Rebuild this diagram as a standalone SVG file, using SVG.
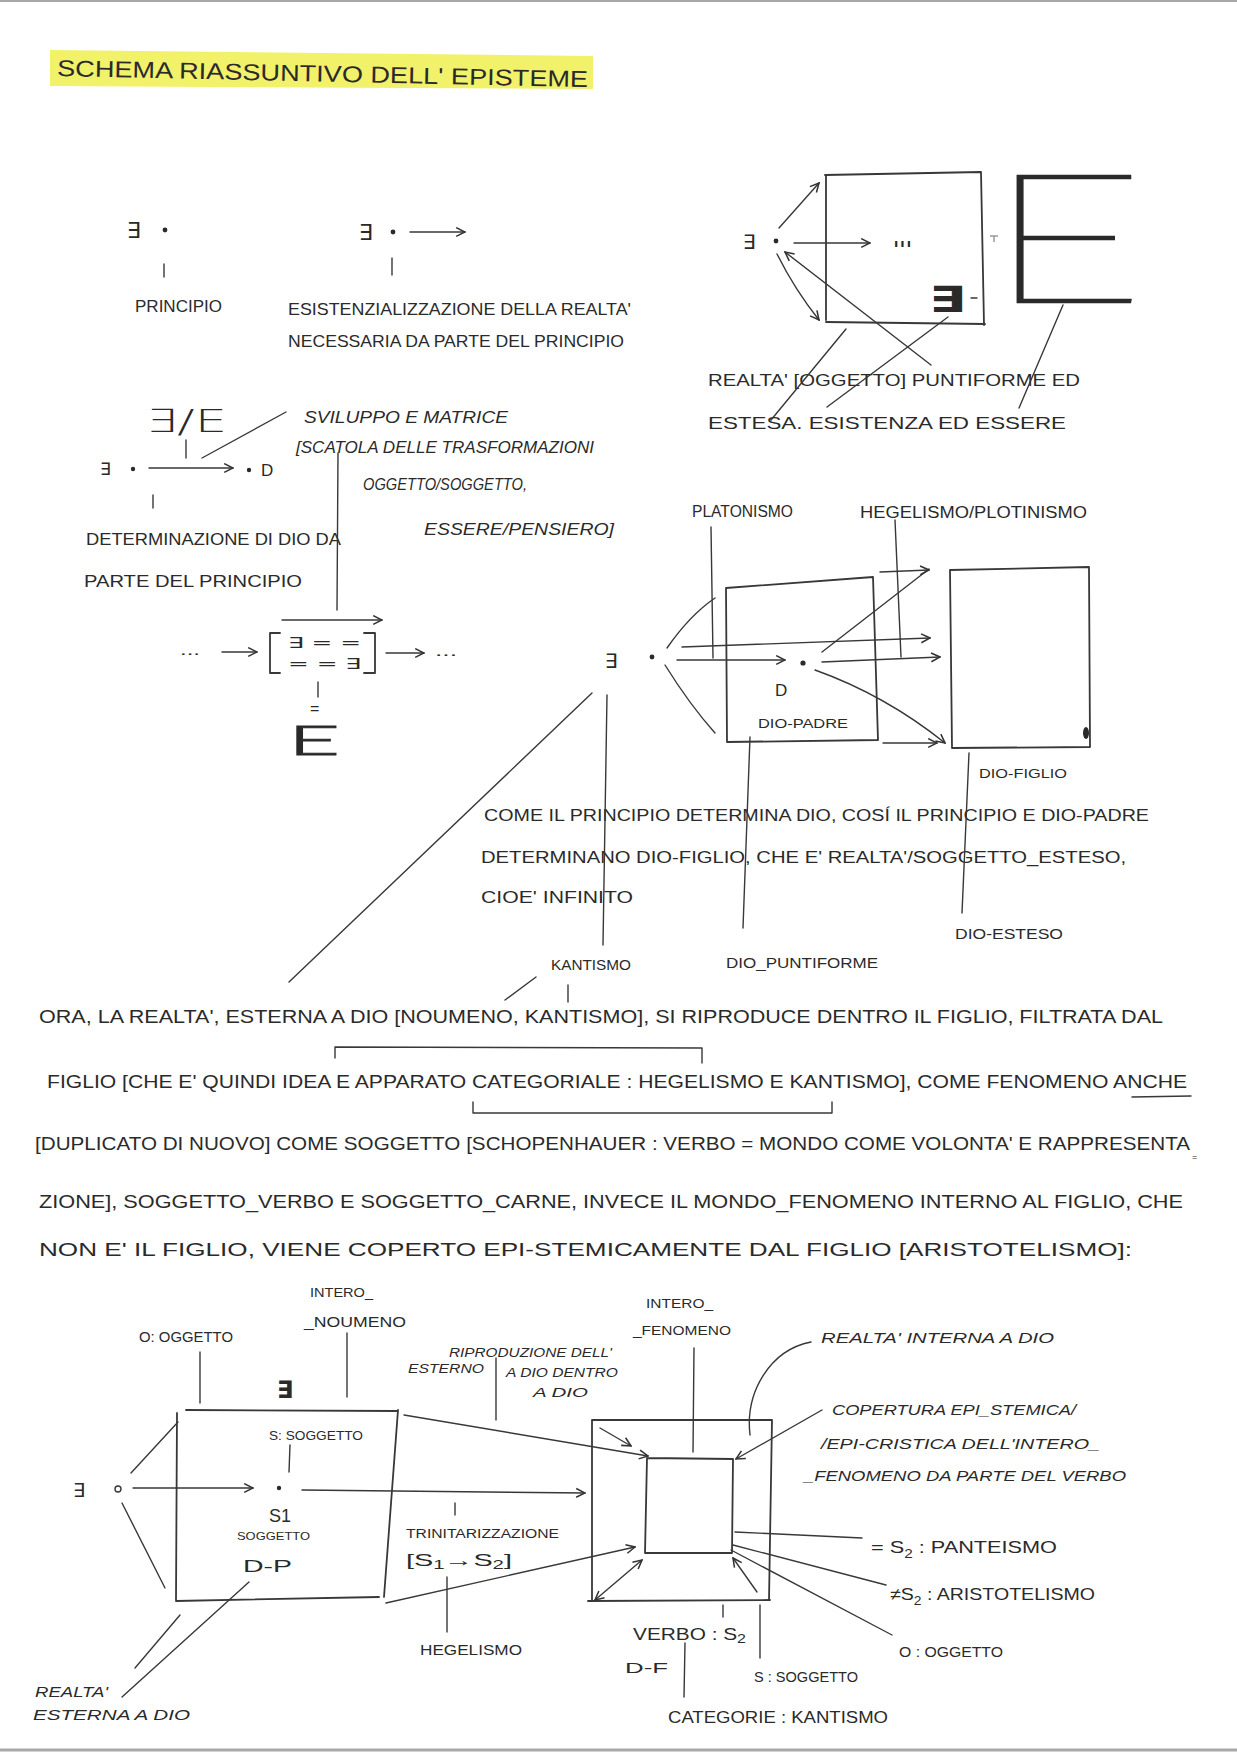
<svg xmlns="http://www.w3.org/2000/svg" width="1237" height="1753" viewBox="0 0 1237 1753">
<defs>
<marker id="ah" viewBox="0 0 10 10" refX="9" refY="5" markerWidth="11" markerHeight="11" markerUnits="userSpaceOnUse" orient="auto-start-reverse"><path d="M1,1 L9,5 L1,9" fill="none" stroke="#333" stroke-width="1.4"/></marker>
</defs>
<style>
.t{font-family:"Liberation Sans",Arial,sans-serif;fill:#2a2a2a}
.s{font-family:"DejaVu Sans","Liberation Sans",sans-serif;fill:#2a2a2a}
.big{font-family:Lato,"DejaVu Sans",sans-serif;fill:#2a2a2a;stroke:#2a2a2a}
.ln{fill:none;stroke:#383838;stroke-width:1.4;stroke-linecap:round;stroke-linejoin:round}
.bx{fill:none;stroke:#383838;stroke-width:1.8;stroke-linecap:round;stroke-linejoin:round}
.ar{marker-end:url(#ah)}
.ar2{marker-start:url(#ah);marker-end:url(#ah)}
.dot{fill:#2a2a2a}
</style>
<rect width="1237" height="1753" fill="#ffffff"/>
<g id="scan-edges" stroke="#a8a8a8" fill="none">
<line x1="0" y1="1" x2="1237" y2="1" stroke-width="2"/>
<line x1="0" y1="1750" x2="1237" y2="1750" stroke-width="3"/>
</g>

<g id="title">
<polygon points="50,50 593,56 593,89 50,86" fill="#f1f16a"/>
<text class="t" x="57" y="76" font-size="23" textLength="531" lengthAdjust="spacingAndGlyphs" transform="rotate(1.2 57 76)">SCHEMA  RIASSUNTIVO  DELL' EPISTEME</text>
</g>

<g id="principio">
<text class="s" x="127" y="238" font-size="22">∃</text>
<circle class="dot" cx="165" cy="230" r="2.4"/>
<text class="t" x="135" y="312" font-size="17" textLength="87" lengthAdjust="spacingAndGlyphs">PRINCIPIO</text>
</g>

<g id="esistenzializzazione">
<text class="s" x="359" y="240" font-size="22">∃</text>
<circle class="dot" cx="393" cy="232" r="2.4"/>
<text class="t" x="288" y="315" font-size="17" textLength="343" lengthAdjust="spacingAndGlyphs">ESISTENZIALIZZAZIONE DELLA REALTA'</text>
<text class="t" x="288" y="347" font-size="17" textLength="336" lengthAdjust="spacingAndGlyphs">NECESSARIA DA PARTE DEL PRINCIPIO</text>
</g>

<g id="realta-box">
<text class="s" x="743" y="249" font-size="20">∃</text>
<circle class="dot" cx="776" cy="241" r="2.4"/>
<path class="bx" d="M825,175 L981,172 M981,172 L984,325 M985,324 L826,322 M826,320 L826,175"/>
<text class="t" x="893" y="247" font-size="9" textLength="19" lengthAdjust="spacingAndGlyphs">III</text>
<text class="s" x="929" y="312" font-size="36" font-weight="bold" textLength="37" lengthAdjust="spacingAndGlyphs">∃</text>
<line class="ln" x1="971" y1="298" x2="977" y2="298" stroke-width="2"/>
<path d="M990,236 L998,236 M994,236 L994,242" stroke="#9a9a9a" stroke-width="1.5" fill="none"/>
<text class="big" x="987" y="302" font-size="180" font-weight="100" stroke-width="2.5" textLength="158" lengthAdjust="spacingAndGlyphs">E</text>
<text class="t" x="708" y="386" font-size="17" textLength="372" lengthAdjust="spacingAndGlyphs">REALTA' [OGGETTO] PUNTIFORME ED</text>
<text class="t" x="708" y="429" font-size="17" textLength="358" lengthAdjust="spacingAndGlyphs">ESTESA. ESISTENZA ED ESSERE</text>
</g>

<g id="determinazione">
<text class="s" x="145" y="432" font-size="32" font-weight="200" textLength="82" lengthAdjust="spacingAndGlyphs">∃/E</text>
<text class="s" x="100" y="475" font-size="17">∃</text>
<circle class="dot" cx="133" cy="469" r="2.2"/>
<circle class="dot" cx="249" cy="470" r="2.2"/>
<text class="t" x="261" y="476" font-size="17">D</text>
<text class="t" x="86" y="545" font-size="16" textLength="255" lengthAdjust="spacingAndGlyphs">DETERMINAZIONE DI DIO DA</text>
<text class="t" x="84" y="587" font-size="16" textLength="218" lengthAdjust="spacingAndGlyphs">PARTE DEL PRINCIPIO</text>
<text class="t" x="304" y="423" font-size="16" textLength="204" lengthAdjust="spacingAndGlyphs" font-style="italic">SVILUPPO E MATRICE</text>
<text class="t" x="296" y="453" font-size="16" textLength="298" lengthAdjust="spacingAndGlyphs" font-style="italic">[SCATOLA DELLE TRASFORMAZIONI</text>
<text class="t" x="363" y="490" font-size="16" textLength="164" lengthAdjust="spacingAndGlyphs" font-style="italic">OGGETTO/SOGGETTO,</text>
<text class="t" x="424" y="535" font-size="16" textLength="190" lengthAdjust="spacingAndGlyphs" font-style="italic">ESSERE/PENSIERO]</text>
</g>

<g id="matrice">
<path class="bx" d="M280,633 L270,633 L270,673 L280,673 M364,633 L375,633 L375,673 L364,673"/>
<text class="s" x="288" y="648" font-size="15" textLength="73" lengthAdjust="spacingAndGlyphs">∃  =  =</text>
<text class="s" x="288" y="669" font-size="15" textLength="73" lengthAdjust="spacingAndGlyphs">=  =  ∃</text>
<text class="t" x="180" y="655" font-size="14" textLength="20" lengthAdjust="spacingAndGlyphs">...</text>
<text class="t" x="435" y="656" font-size="14" textLength="22" lengthAdjust="spacingAndGlyphs">...</text>
<text class="t" x="310" y="714" font-size="16">=</text>
<text class="big" x="288" y="755" font-size="42" font-weight="300" stroke-width="1" textLength="52" lengthAdjust="spacingAndGlyphs">E</text>
</g>

<g id="dio-padre">
<text class="s" x="605" y="668" font-size="20">∃</text>
<circle class="dot" cx="652" cy="657" r="2.4"/>
<path class="bx" d="M726,588 L873,577 M873,577 L878,740 M878,740 L727,742 M727,742 L726,588"/>
<circle class="dot" cx="803" cy="663" r="2.6"/>
<text class="t" x="775" y="696" font-size="17">D</text>
<text class="t" x="758" y="728" font-size="12" textLength="90" lengthAdjust="spacingAndGlyphs">DIO-PADRE</text>
<text class="t" x="692" y="517" font-size="16" textLength="101" lengthAdjust="spacingAndGlyphs">PLATONISMO</text>
<text class="t" x="860" y="518" font-size="16" textLength="227" lengthAdjust="spacingAndGlyphs">HEGELISMO/PLOTINISMO</text>
</g>

<g id="dio-figlio">
<path class="bx" d="M950,570 L1089,567 M1089,567 L1090,747 M1090,747 L952,748 M952,748 L950,570"/>
<ellipse cx="1086" cy="733" rx="3" ry="6" fill="#2a2a2a"/>
<text class="t" x="979" y="778" font-size="13" textLength="88" lengthAdjust="spacingAndGlyphs">DIO-FIGLIO</text>
<text class="t" x="955" y="939" font-size="14" textLength="108" lengthAdjust="spacingAndGlyphs">DIO-ESTESO</text>
<text class="t" x="726" y="968" font-size="14" textLength="152" lengthAdjust="spacingAndGlyphs">DIO_PUNTIFORME</text>
<text class="t" x="551" y="970" font-size="14" textLength="80" lengthAdjust="spacingAndGlyphs">KANTISMO</text>
</g>

<g id="spiegazione">
<text class="t" x="484" y="821" font-size="16" textLength="665" lengthAdjust="spacingAndGlyphs">COME IL PRINCIPIO DETERMINA DIO, COSÍ IL PRINCIPIO E DIO-PADRE</text>
<text class="t" x="481" y="863" font-size="16" textLength="645" lengthAdjust="spacingAndGlyphs">DETERMINANO DIO-FIGLIO, CHE E' REALTA'/SOGGETTO_ESTESO,</text>
<text class="t" x="481" y="903" font-size="16" textLength="152" lengthAdjust="spacingAndGlyphs">CIOE' INFINITO</text>
</g>

<g id="paragrafo">
<text class="t" x="39" y="1023" font-size="18" textLength="1124" lengthAdjust="spacingAndGlyphs">ORA, LA REALTA', ESTERNA A DIO [NOUMENO, KANTISMO], SI RIPRODUCE DENTRO IL FIGLIO, FILTRATA DAL</text>
<text class="t" x="47" y="1088" font-size="18" textLength="1140" lengthAdjust="spacingAndGlyphs">FIGLIO [CHE E' QUINDI IDEA E APPARATO CATEGORIALE : HEGELISMO E KANTISMO], COME FENOMENO ANCHE</text>
<text class="t" x="35" y="1150" font-size="18" textLength="1155" lengthAdjust="spacingAndGlyphs">[DUPLICATO DI NUOVO] COME SOGGETTO [SCHOPENHAUER : VERBO = MONDO COME VOLONTA' E RAPPRESENTA</text>
<text class="t" x="1192" y="1160" font-size="9">=</text>
<text class="t" x="39" y="1208" font-size="18" textLength="1144" lengthAdjust="spacingAndGlyphs">ZIONE], SOGGETTO_VERBO E SOGGETTO_CARNE, INVECE IL MONDO_FENOMENO INTERNO AL FIGLIO, CHE</text>
<text class="t" x="39" y="1256" font-size="18" textLength="1093" lengthAdjust="spacingAndGlyphs">NON E' IL FIGLIO, VIENE COPERTO EPI-STEMICAMENTE DAL FIGLIO [ARISTOTELISMO]:</text>
<path class="ln" d="M335,1058 L335,1047 L702,1048 L702,1063"/>
<path class="ln" d="M473,1102 L473,1113 L832,1113 L832,1102"/>
<line class="ln" x1="1132" y1="1097" x2="1191" y2="1096" stroke-width="2"/>
</g>

<g id="soggetto-box">
<text class="t" x="310" y="1297" font-size="13" textLength="63" lengthAdjust="spacingAndGlyphs">INTERO_</text>
<text class="t" x="304" y="1327" font-size="15" textLength="102" lengthAdjust="spacingAndGlyphs">_NOUMENO</text>
<text class="t" x="139" y="1342" font-size="14" textLength="94" lengthAdjust="spacingAndGlyphs">O: OGGETTO</text>
<text class="s" x="277" y="1398" font-size="24" font-weight="bold">∃</text>
<path class="bx" d="M186,1410 L398,1411 M398,1410 L384,1597 M379,1597 L176,1601 M176,1600 L177,1413"/>
<text class="t" x="269" y="1440" font-size="13" textLength="94" lengthAdjust="spacingAndGlyphs">S: SOGGETTO</text>
<text class="s" x="73" y="1497" font-size="19">∃</text>
<circle cx="118" cy="1489" r="3" fill="none" stroke="#383838" stroke-width="1.4"/>
<circle class="dot" cx="279" cy="1488" r="2.2"/>
<text class="t" x="269" y="1522" font-size="18">S1</text>
<text class="t" x="237" y="1540" font-size="11" textLength="73" lengthAdjust="spacingAndGlyphs">SOGGETTO</text>
<text class="t" x="243" y="1572" font-size="17" textLength="49" lengthAdjust="spacingAndGlyphs">D-P</text>
<text class="t" x="35" y="1697" font-size="15" textLength="73" lengthAdjust="spacingAndGlyphs" font-style="italic">REALTA'</text>
<text class="t" x="33" y="1720" font-size="15" textLength="157" lengthAdjust="spacingAndGlyphs" font-style="italic">ESTERNA A DIO</text>
</g>

<g id="riproduzione">
<text class="t" x="449" y="1357" font-size="13" textLength="163" lengthAdjust="spacingAndGlyphs" font-style="italic">RIPRODUZIONE DELL'</text>
<text class="t" x="408" y="1373" font-size="13" textLength="76" lengthAdjust="spacingAndGlyphs" font-style="italic">ESTERNO</text>
<text class="t" x="506" y="1377" font-size="13" textLength="112" lengthAdjust="spacingAndGlyphs" font-style="italic">A DIO DENTRO</text>
<text class="t" x="533" y="1397" font-size="13" textLength="55" lengthAdjust="spacingAndGlyphs" font-style="italic">A DIO</text>
<text class="t" x="406" y="1538" font-size="12" textLength="153" lengthAdjust="spacingAndGlyphs">TRINITARIZZAZIONE</text>
<text class="t" x="406" y="1566" font-size="17" textLength="106" lengthAdjust="spacingAndGlyphs">[S<tspan font-size="12" dy="3">1</tspan><tspan dy="-3">→S</tspan><tspan font-size="12" dy="3">2</tspan><tspan dy="-3">]</tspan></text>
<text class="t" x="420" y="1655" font-size="14" textLength="102" lengthAdjust="spacingAndGlyphs">HEGELISMO</text>
</g>

<g id="verbo-box">
<text class="t" x="646" y="1308" font-size="13" textLength="67" lengthAdjust="spacingAndGlyphs">INTERO_</text>
<text class="t" x="633" y="1335" font-size="13" textLength="98" lengthAdjust="spacingAndGlyphs">_FENOMENO</text>
<path class="bx" d="M592,1420 L772,1420 M772,1420 L769,1600 M770,1600 L588,1601 M592,1600 L592,1420"/>
<path class="bx" d="M647,1458 L733,1459 M733,1459 L732,1553 M732,1553 L645,1553 M645,1553 L647,1458"/>
<text class="t" x="821" y="1343" font-size="15" textLength="233" lengthAdjust="spacingAndGlyphs" font-style="italic">REALTA' INTERNA A DIO</text>
<text class="t" x="832" y="1415" font-size="15" textLength="244" lengthAdjust="spacingAndGlyphs" font-style="italic">COPERTURA EPI_STEMICA/</text>
<text class="t" x="821" y="1449" font-size="15" textLength="279" lengthAdjust="spacingAndGlyphs" font-style="italic">/EPI-CRISTICA DELL'INTERO_</text>
<text class="t" x="804" y="1481" font-size="15" textLength="322" lengthAdjust="spacingAndGlyphs" font-style="italic">_FENOMENO DA PARTE DEL VERBO</text>
<text class="t" x="871" y="1553" font-size="17" textLength="186" lengthAdjust="spacingAndGlyphs">= S<tspan font-size="12" dy="5">2</tspan><tspan dy="-5"> : PANTEISMO</tspan></text>
<text class="t" x="890" y="1600" font-size="17" textLength="205" lengthAdjust="spacingAndGlyphs">≠S<tspan font-size="12" dy="5">2</tspan><tspan dy="-5"> : ARISTOTELISMO</tspan></text>
<text class="t" x="899" y="1657" font-size="15" textLength="104" lengthAdjust="spacingAndGlyphs">O : OGGETTO</text>
<text class="t" x="633" y="1640" font-size="17" textLength="113" lengthAdjust="spacingAndGlyphs">VERBO : S<tspan font-size="13" dy="3">2</tspan></text>
<text class="t" x="625" y="1673" font-size="15" textLength="43" lengthAdjust="spacingAndGlyphs">D-F</text>
<text class="t" x="754" y="1682" font-size="14" textLength="104" lengthAdjust="spacingAndGlyphs">S : SOGGETTO</text>
<text class="t" x="668" y="1723" font-size="16" textLength="220" lengthAdjust="spacingAndGlyphs">CATEGORIE : KANTISMO</text>
</g>

<g id="connectors">
<line class="ln" x1="164" y1="264" x2="164" y2="277"/>
<line class="ln ar" x1="410" y1="232" x2="465" y2="232"/>
<line class="ln" x1="392" y1="258" x2="392" y2="275"/>
<line class="ln ar" x1="779" y1="228" x2="819" y2="183"/>
<line class="ln ar" x1="794" y1="243" x2="870" y2="243"/>
<path class="ln ar" d="M777,254 Q795,290 819,320"/>
<line class="ln ar" x1="931" y1="365" x2="785" y2="252"/>
<line class="ln" x1="846" y1="329" x2="771" y2="420"/>
<line class="ln" x1="948" y1="317" x2="827" y2="407"/>
<line class="ln" x1="1063" y1="305" x2="1019" y2="408"/>
<line class="ln" x1="186" y1="440" x2="186" y2="458"/>
<line class="ln" x1="202" y1="458" x2="286" y2="412"/>
<line class="ln ar" x1="149" y1="468" x2="233" y2="468"/>
<line class="ln" x1="153" y1="495" x2="153" y2="508"/>
<line class="ln" x1="338" y1="453" x2="337" y2="610"/>
<line class="ln ar" x1="282" y1="620" x2="382" y2="620"/>
<line class="ln ar" x1="222" y1="652" x2="257" y2="652"/>
<line class="ln ar" x1="386" y1="653" x2="424" y2="653"/>
<line class="ln" x1="318" y1="682" x2="318" y2="697"/>
<line class="ln" x1="711" y1="527" x2="713" y2="658"/>
<line class="ln" x1="895" y1="520" x2="901" y2="657"/>
<path class="ln" d="M667,648 Q690,615 715,598"/>
<path class="ln" d="M665,665 Q690,705 715,733"/>
<line class="ln ar" x1="682" y1="647" x2="930" y2="638"/>
<line class="ln ar" x1="677" y1="660" x2="785" y2="660"/>
<line class="ln ar" x1="822" y1="662" x2="940" y2="657"/>
<line class="ln" x1="822" y1="652" x2="929" y2="569"/>
<line class="ln ar" x1="880" y1="572" x2="929" y2="570"/>
<path class="ln ar" d="M815,670 Q885,695 945,743"/>
<line class="ln ar" x1="883" y1="743" x2="937" y2="743"/>
<line class="ln" x1="969" y1="753" x2="962" y2="913"/>
<line class="ln" x1="750" y1="737" x2="743" y2="928"/>
<line class="ln" x1="607" y1="695" x2="603" y2="945"/>
<line class="ln" x1="592" y1="693" x2="289" y2="982"/>
<line class="ln" x1="505" y1="1000" x2="536" y2="977"/>
<line class="ln" x1="568" y1="985" x2="568" y2="1002"/>
<line class="ln" x1="200" y1="1352" x2="200" y2="1403"/>
<line class="ln" x1="347" y1="1333" x2="347" y2="1397"/>
<line class="ln" x1="290" y1="1445" x2="289" y2="1472"/>
<line class="ln" x1="131" y1="1473" x2="178" y2="1422"/>
<line class="ln" x1="122" y1="1503" x2="165" y2="1588"/>
<line class="ln ar" x1="133" y1="1488" x2="253" y2="1488"/>
<line class="ln ar" x1="302" y1="1490" x2="585" y2="1493"/>
<line class="ln ar" x1="404" y1="1415" x2="648" y2="1456"/>
<line class="ln ar" x1="386" y1="1603" x2="635" y2="1547"/>
<line class="ln" x1="496" y1="1358" x2="496" y2="1420"/>
<line class="ln" x1="455" y1="1503" x2="455" y2="1515"/>
<line class="ln" x1="447" y1="1577" x2="447" y2="1632"/>
<line class="ln" x1="180" y1="1615" x2="135" y2="1668"/>
<line class="ln" x1="249" y1="1582" x2="122" y2="1697"/>
<line class="ln" x1="694" y1="1348" x2="693" y2="1452"/>
<line class="ln ar" x1="600" y1="1428" x2="631" y2="1446" stroke-width="2"/>
<line class="ln ar" x1="822" y1="1410" x2="736" y2="1459"/>
<path class="ln" d="M811,1342 C770,1350 745,1392 750,1435"/>
<line class="ln ar2" x1="595" y1="1600" x2="642" y2="1560"/>
<line class="ln ar" x1="757" y1="1592" x2="733" y2="1558"/>
<line class="ln" x1="735" y1="1532" x2="862" y2="1538"/>
<line class="ln" x1="733" y1="1545" x2="886" y2="1585"/>
<line class="ln" x1="731" y1="1550" x2="892" y2="1635"/>
<line class="ln" x1="723" y1="1605" x2="723" y2="1617"/>
<line class="ln" x1="760" y1="1605" x2="760" y2="1658"/>
<line class="ln" x1="685" y1="1643" x2="684" y2="1697"/>
</g>
</svg>
